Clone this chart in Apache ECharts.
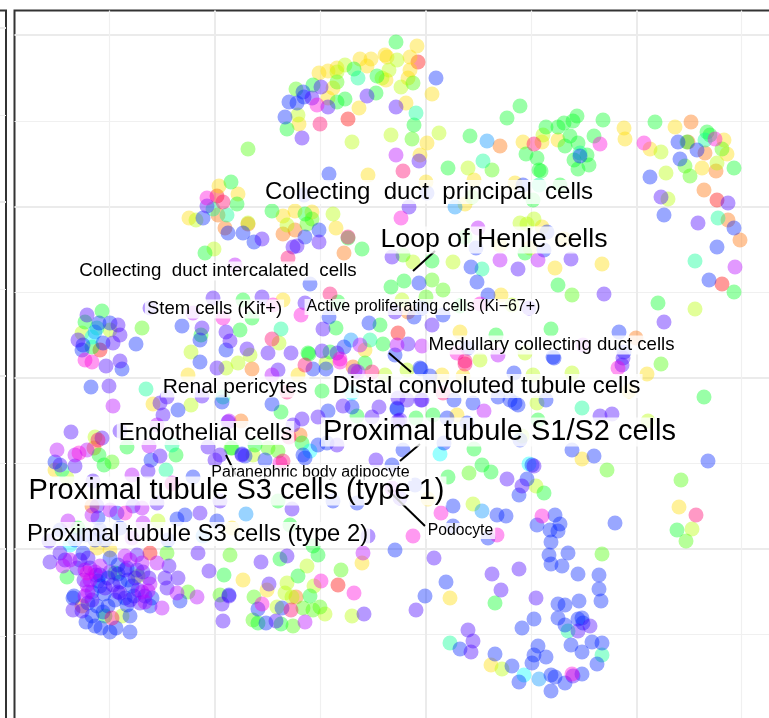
<!DOCTYPE html>
<html><head><meta charset="utf-8">
<style>html,body{margin:0;padding:0;background:#fff}#c{width:769px;height:718px}</style>
<script src="https://cdn.jsdelivr.net/npm/echarts@6/dist/echarts.min.js"></script>
</head><body><div id="c"></div>
<script>
// cell clusters, values
const red=[[348,119],[418,62],[217,196],[717,200],[722,284],[338,585],[150,553],[398,333],[100,350]];
const orange=[[218,215],[225,228],[248,224],[283,234],[295,230],[344,253],[252,369],[500,146],[691,122],[705,153],[716,171],[704,190],[728,220],[740,240],[636,338],[408,312],[353,367],[241,421],[300,435],[94,448],[92,506],[296,597],[82,606],[688,142]];
const yellow=[[319,73],[328,71],[337,68],[360,59],[371,59],[367,66],[385,55],[333,88],[328,98],[359,108],[299,124],[368,175],[219,186],[238,194],[189,218],[283,216],[295,211],[312,212],[336,228],[417,46],[387,57],[410,57],[410,70],[408,78],[386,80],[432,94],[406,103],[427,143],[420,155],[474,180],[426,182],[515,183],[465,204],[523,142],[542,142],[558,140],[624,128],[625,139],[650,149],[675,127],[724,140],[727,154],[702,168],[542,227],[564,239],[500,245],[530,248],[555,268],[602,264],[501,295],[460,332],[442,375],[463,376],[647,374],[629,391],[457,415],[428,499],[582,459],[679,507],[450,598],[491,665],[188,375],[298,375],[365,350],[153,404],[55,470],[97,548],[110,550],[232,528],[243,580],[267,590],[362,563],[283,300]];
const lime=[[345,65],[337,72],[382,78],[298,115],[352,142],[248,223],[196,220],[214,249],[333,214],[287,225],[397,60],[389,70],[401,87],[391,135],[439,133],[468,168],[520,223],[527,224],[534,219],[543,135],[661,152],[717,163],[666,173],[668,199],[695,309],[453,262],[413,262],[402,300],[512,305],[480,360],[525,353],[533,375],[572,373],[537,403],[522,436],[473,504],[536,486],[502,669],[692,529],[279,343],[191,352],[226,368],[238,363],[250,355],[326,363],[385,375],[407,370],[191,405],[82,333],[110,330],[95,437],[67,478],[253,455],[158,521],[307,566],[314,586],[287,583],[285,593],[277,607],[325,614],[352,616],[122,616],[138,576],[648,421],[292,597]];
const chartreuse=[[337,82],[296,89],[248,149],[413,83],[412,139],[492,170],[472,197],[685,166],[690,176],[403,255],[432,280],[443,290],[426,297],[572,295],[312,219],[307,224],[142,328],[112,462],[167,553],[230,555],[341,570],[188,592],[220,595],[254,597],[303,608],[313,610],[320,607],[253,620],[293,626],[602,554],[607,470],[469,473],[681,480],[686,541],[722,149],[661,364],[231,448],[268,448],[278,451]];
const green=[[354,69],[377,76],[313,85],[337,102],[345,99],[376,93],[287,129],[231,182],[237,204],[205,253],[272,211],[305,214],[348,238],[362,249],[396,42],[414,125],[448,168],[470,136],[526,154],[537,158],[539,170],[541,171],[533,200],[520,106],[507,118],[546,127],[558,127],[564,123],[573,121],[577,116],[570,136],[565,146],[578,143],[594,136],[603,120],[574,160],[587,155],[589,165],[578,169],[655,122],[687,142],[707,132],[710,135],[734,168],[734,292],[658,303],[465,237],[525,253],[432,261],[404,281],[391,287],[558,285],[460,306],[496,335],[551,329],[243,300],[338,302],[252,318],[240,330],[336,328],[380,325],[309,354],[330,352],[383,344],[308,353],[365,363],[102,311],[85,322],[92,347],[322,391],[281,412],[357,416],[416,418],[433,415],[538,420],[704,397],[474,449],[482,465],[491,472],[448,477],[544,493],[677,530],[495,603],[127,447],[176,455],[99,455],[104,465],[278,501],[290,525],[78,528],[313,546],[318,555],[224,575],[280,559],[298,576],[310,596],[258,623],[281,624],[67,577],[115,573],[105,616],[302,443],[232,448],[255,445],[201,335],[560,185]];
const aqua=[[358,78],[213,209],[227,215],[416,113],[483,161],[539,185],[705,140],[718,218],[695,261],[482,269],[281,329],[370,340],[146,389],[172,445],[166,470],[97,328],[223,397],[62,470],[582,408],[450,643],[568,631],[602,655],[580,153]];
const cyan=[[70,545],[92,337],[352,393],[310,451],[440,454],[529,464],[524,675]];
const sky=[[351,340],[487,141],[455,207],[246,514],[203,536],[482,511],[539,679],[95,332]];
const blue=[[303,92],[304,97],[289,102],[297,103],[285,117],[329,174],[304,195],[203,218],[228,233],[243,233],[254,242],[319,230],[305,237],[310,284],[182,326],[200,340],[226,350],[344,347],[329,317],[369,323],[436,78],[523,185],[427,193],[580,156],[678,142],[697,150],[680,159],[650,177],[664,215],[734,228],[717,247],[709,280],[547,232],[476,248],[544,250],[471,267],[419,283],[477,282],[488,295],[422,308],[414,317],[443,315],[619,332],[468,348],[395,355],[420,368],[313,369],[326,369],[200,362],[99,323],[110,323],[83,345],[82,350],[103,343],[136,344],[122,369],[91,387],[178,410],[222,402],[272,404],[328,411],[352,407],[397,408],[318,445],[327,443],[305,458],[303,455],[193,477],[242,454],[265,460],[245,456],[55,462],[151,460],[333,501],[357,503],[185,515],[177,519],[217,521],[168,540],[117,513],[98,518],[110,558],[127,568],[98,581],[132,586],[150,606],[127,605],[108,606],[97,606],[73,598],[92,616],[130,616],[95,626],[110,632],[130,632],[100,586],[118,565],[180,601],[229,595],[258,609],[282,608],[266,623],[421,369],[430,376],[514,373],[554,358],[553,357],[624,352],[454,400],[473,403],[498,397],[510,400],[515,403],[518,405],[546,400],[397,409],[447,418],[467,423],[520,440],[403,450],[444,443],[572,450],[594,456],[708,461],[532,465],[527,479],[519,495],[392,465],[415,485],[453,506],[497,515],[506,516],[555,515],[560,524],[537,525],[550,530],[558,531],[453,526],[488,538],[395,550],[551,542],[549,555],[568,553],[551,564],[562,566],[578,574],[599,575],[599,589],[601,601],[446,582],[425,596],[558,604],[565,605],[579,601],[558,618],[534,619],[522,628],[565,625],[578,619],[582,618],[583,623],[460,649],[495,654],[571,645],[592,642],[602,643],[582,652],[597,664],[538,646],[534,655],[546,657],[532,663],[512,666],[519,682],[551,675],[555,677],[582,674],[565,683],[551,691],[615,523],
[100,575],[108,578],[120,582],[92,592],[104,594],[125,598],[115,600],[88,603],[103,612],[86,622],[101,628],[116,628],[74,596],[118,574],[137,570],[128,580],[145,596],[152,598],[134,596],[83,553],[95,540],[120,528],[100,530],[85,535],[75,540],[105,540],[60,530]];
const purple=[[321,87],[312,98],[328,107],[367,96],[302,138],[207,206],[262,239],[293,247],[297,246],[319,242],[213,298],[262,297],[305,303],[150,308],[202,328],[226,332],[230,341],[323,329],[247,349],[268,353],[291,353],[322,351],[337,353],[396,107],[419,161],[409,207],[661,197],[728,203],[698,223],[571,259],[518,269],[604,294],[392,257],[529,308],[395,312],[432,325],[408,344],[664,322],[623,358],[622,365],[87,315],[118,325],[78,340],[113,343],[120,335],[106,366],[120,361],[109,386],[160,403],[167,397],[163,415],[71,432],[102,438],[120,431],[217,368],[278,370],[355,371],[202,396],[228,422],[302,419],[318,417],[343,406],[379,407],[372,417],[407,400],[422,400],[398,398],[421,400],[400,420],[398,421],[208,447],[220,455],[215,460],[242,455],[337,445],[293,425],[376,460],[75,466],[60,465],[160,456],[148,471],[93,481],[220,501],[157,503],[292,509],[200,513],[97,506],[133,506],[49,541],[368,536],[198,553],[209,571],[261,562],[287,556],[269,584],[222,604],[223,621],[229,596],[276,621],[364,614],[50,562],[60,553],[65,560],[80,560],[88,558],[137,555],[169,566],[165,578],[178,578],[167,588],[149,578],[113,585],[140,603],[120,593],[73,610],[82,611],[77,568],[600,416],[612,414],[534,466],[507,479],[522,486],[434,558],[492,574],[519,569],[501,590],[416,610],[536,598],[590,626],[468,630],[578,631],[473,641],[471,652],[573,676],[400,498],
[90,568],[96,575],[84,580],[110,572],[125,570],[135,578],[143,572],[105,588],[118,592],[130,600],[92,600],[138,590]];
const violet=[[235,265],[193,313],[396,155],[478,228],[538,260],[500,260],[397,345],[422,346],[583,345],[360,345],[498,355],[484,411],[735,267],[358,372],[113,406],[272,375],[132,475],[57,450],[75,455],[87,450],[149,446],[157,425],[110,510],[142,508],[92,515],[68,521],[132,538],[143,523],[363,553],[197,597],[305,622],[125,556],[142,563],[157,563],[177,593],[148,591],[162,608],[85,596],[87,585],[63,566],[100,566],[392,488],[229,421],[172,483],
[85,570],[90,580],[95,572],[88,592],[142,592],[150,584],[145,602],[130,560],[70,560]];
const magenta=[[317,105],[207,198],[301,315],[273,305],[223,318],[401,218],[600,144],[644,143],[715,139],[480,304],[457,353],[340,362],[340,359],[618,368],[85,360],[92,362],[79,453],[125,513],[321,581],[354,593],[262,604],[87,573],[441,513],[542,516],[497,535],[413,536],[572,674],[280,463]];
const pink=[[320,124],[223,202],[348,237],[288,258],[330,294],[272,339],[305,365],[403,171],[534,144],[465,361],[465,364],[443,393],[287,392],[289,437],[283,461],[696,515],[291,610],[112,618],[98,440],[372,372],[172,484]];
const clusterArrays=[red,orange,yellow,lime,chartreuse,green,aqua,cyan,sky,blue,purple,violet,magenta,pink];
const clusterColors=['#FF0000','#FF6D00','#FFDB00','#B6FF00','#49FF00','#00FF24','#00FF92','#00FFFF','#0092FF','#0024FF','#4900FF','#B600FF','#FF00DB','#FF006D'];
// cell type labels
const labelNames=['Paranephric body adipocyte','Collecting  duct  principal  cells','Loop of Henle cells','Collecting  duct intercalated  cells','Stem cells (Kit+)','Active proliferating cells (Ki\u221267+)','Medullary collecting duct cells','Renal pericytes','Distal convoluted tubule cells','Endothelial cells','Proximal tubule S1/S2 cells','Proximal tubule S3 cells (type 1)','Proximal tubule S3 cells (type 2)','Podocyte'];
const labelX=[310.5,429,494,218,214.5,423.5,551.5,235,486.5,205.5,499.5,236.5,197.5,460.5];
const labelY=[473,192,240,271,309,307,345,387,386,433,432,491,534,531];
const labelSize=[16,24,26.7,18.7,18.5,16,18.6,21,23.9,24,29,29,23.8,15.7];
const leaderLines=[[[413,271],[435,251]],[[389,353],[411,372]],[[400,461],[420,444]],[[226,455],[236,475]],[[388,490],[425,526]]];
// reference lines of the panels
const xMajor=[214.5,425.5,636.5],xMinor=[109,320,531,741.5];
const yMajor=[35,206.5,377.5,548.5],yMinor=[121,292,463,634];
const sideMajor=[28,202,376,549],sideMinor=[115,289,463,636];

const line=(w,c)=>({show:true,lineStyle:{color:c,width:w}});
const hidden={axisLine:{show:false},axisLabel:{show:false}};
const xAx=(grid,min,max,ticks,w)=>({type:'value',gridIndex:grid,min,max,...hidden,axisTick:{show:false,customValues:ticks},splitLine:ticks.length?line(w,w>1.5?'#ebebeb':'#f0f0f0'):{show:false}});
const yAx=(grid,min,max,ticks,w)=>({...xAx(grid,min,max,ticks,w),inverse:true});

const series=clusterArrays.map((d,i)=>({type:'scatter',xAxisIndex:0,yAxisIndex:0,data:d,symbol:'circle',symbolSize:15,
  itemStyle:{color:clusterColors[i],opacity:0.4},silent:true,z:2}));
leaderLines.forEach(s=>series.push({type:'line',xAxisIndex:0,yAxisIndex:0,data:s,symbol:'none',silent:true,z:3,
  lineStyle:{color:'#000',width:2,cap:'butt'}}));
series.push({type:'scatter',xAxisIndex:0,yAxisIndex:0,symbolSize:0,silent:true,z:4,itemStyle:{opacity:1},
  data:labelNames.map((n,i)=>({name:n,value:[labelX[i],labelY[i]],label:{fontSize:labelSize[i]}})),
  label:{show:true,position:'inside',align:'center',verticalAlign:'middle',formatter:p=>p.name,color:'#000',
    fontFamily:'"Liberation Sans",Arial,sans-serif',backgroundColor:'rgba(255,255,255,0.8)',padding:[0,2]}});

const chart=echarts.init(document.getElementById('c'),null,{renderer:'canvas'});
chart.setOption({animation:false,backgroundColor:'#fff',
  grid:[{left:14.5,top:10.5,width:770,height:720,show:true,borderColor:'#333',borderWidth:2,backgroundColor:'#fff',outerBoundsMode:'none'},
        {left:-60,top:10.5,width:66,height:720,show:true,borderColor:'#333',borderWidth:2,backgroundColor:'#fff',outerBoundsMode:'none'}],
  xAxis:[xAx(0,14.5,784.5,xMinor,1.2),xAx(0,14.5,784.5,xMajor,2),xAx(1,-60,6,[],1)],
  yAxis:[yAx(0,10.5,730.5,yMinor,1.2),yAx(0,10.5,730.5,yMajor,2),yAx(1,10.5,730.5,sideMinor,1.2),yAx(1,10.5,730.5,sideMajor,2)],
  series});
</script></body></html>
